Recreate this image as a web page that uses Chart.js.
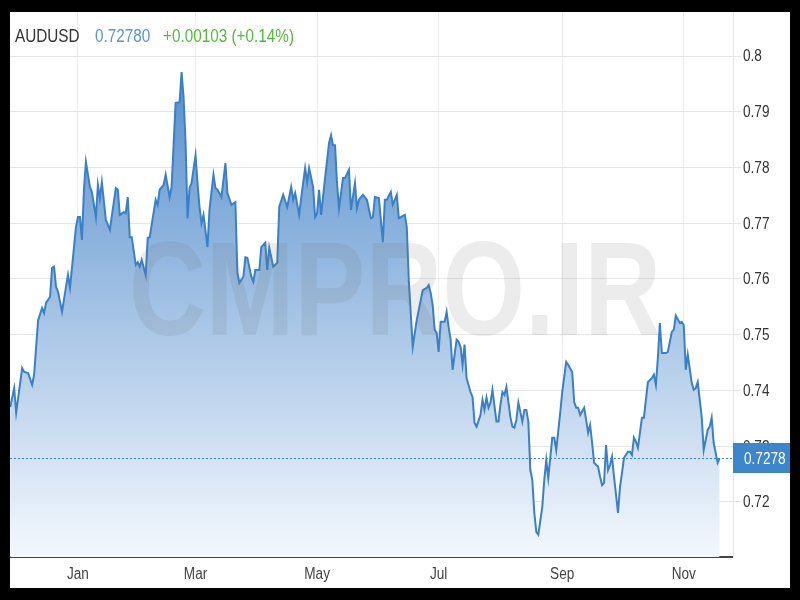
<!DOCTYPE html>
<html>
<head>
<meta charset="utf-8">
<script src="https://cdn.jsdelivr.net/npm/chart.js@4"></script>
<style>
  html, body { margin: 0; padding: 0; background: #000; }
  #frame { position: absolute; left: 10px; top: 12px; width: 780px; height: 576px; background: #fff; }
</style>
</head>
<body>
<div id="frame"><canvas id="chart" width="780" height="576"></canvas></div>
<script>
// header texts
const symbol = "AUDUSD";
const lastQuote = "0.72780";
const change = "+0.00103 (+0.14%)";
const watermark = "CMPRO.IR";

// days counted from Jan 1
const days = [
  -34, -32, -31, -28, -27, -25, -23, -22, -20, -18,
  -17, -16, -14, -13, -12, -11, -10, -8, -6, -5,
  -4, -1, 0, 1, 2, 3, 4, 6, 7, 9,
  10, 11, 12, 14, 16, 19, 20, 21, 23, 24,
  25, 26, 27, 29, 30, 31, 32, 34, 35, 36,
  39, 40, 41, 43, 44, 46, 47, 49, 51, 52,
  53, 54, 55, 56, 57, 59, 60, 61, 62, 63,
  65, 66, 68, 69, 70, 72, 74, 75, 77, 79,
  80, 81, 83, 84, 85, 87, 88, 89, 91, 92,
  94, 95, 96, 98, 100, 101, 103, 105, 107, 108,
  109, 111, 112, 114, 115, 116, 118, 119, 120, 121,
  122, 124, 126, 127, 128, 129, 130, 131, 133, 134,
  136, 137, 139, 140, 141, 143, 145, 147, 148, 149,
  151, 153, 154, 155, 157, 158, 160, 161, 162, 164,
  165, 166, 168, 170, 172, 173, 175, 176, 177, 178,
  179, 180, 181, 182, 184, 185, 186, 187, 188, 190,
  191, 192, 193, 194, 195, 197, 198, 199, 200, 202,
  203, 204, 205, 206, 207, 208, 210, 211, 212, 213,
  214, 215, 217, 218, 219, 220, 221, 223, 224, 225,
  226, 227, 228, 229, 230, 231, 233, 234, 235, 236,
  238, 239, 240, 242, 243, 245, 246, 248, 249, 250,
  251, 252, 254, 255, 256, 257, 258, 259, 261, 262,
  263, 264, 265, 266, 267, 268, 269, 271, 272, 273,
  274, 276, 277, 278, 279, 280, 281, 283, 284, 285,
  286, 288, 289, 290, 291, 292, 293, 295, 296, 298,
  299, 300, 302, 303, 304, 305, 306, 308, 309, 310,
  311, 313, 314, 316, 317, 318, 319, 321, 322
];
const rates = [
  0.7370, 0.7404, 0.7360, 0.7440, 0.7433, 0.7431, 0.7410, 0.7428, 0.7526, 0.7548,
  0.7539, 0.7557, 0.7568, 0.7620, 0.7622, 0.7586, 0.7577, 0.7541, 0.7586, 0.7607,
  0.7584, 0.7693, 0.7711, 0.7711, 0.7670, 0.7760, 0.7810, 0.7765, 0.7756, 0.7711,
  0.7769, 0.7745, 0.7774, 0.7706, 0.7688, 0.7763, 0.7760, 0.7715, 0.7720, 0.7718,
  0.7747, 0.7675, 0.7675, 0.7625, 0.7630, 0.7622, 0.7634, 0.7607, 0.7674, 0.7675,
  0.7742, 0.7733, 0.7760, 0.7769, 0.7787, 0.7747, 0.7765, 0.7916, 0.7917, 0.7971,
  0.7926, 0.7844, 0.7709, 0.7763, 0.7772, 0.7822, 0.7772, 0.7729, 0.7700, 0.7715,
  0.7657, 0.7724, 0.7787, 0.7763, 0.7760, 0.7747, 0.7808, 0.7754, 0.7733, 0.7738,
  0.7611, 0.7593, 0.7604, 0.7639, 0.7638, 0.7604, 0.7595, 0.7616, 0.7616, 0.7657,
  0.7665, 0.7616, 0.7656, 0.7622, 0.7629, 0.7729, 0.7751, 0.7729, 0.7765, 0.7742,
  0.7754, 0.7715, 0.7745, 0.7799, 0.7774, 0.7799, 0.7765, 0.7711, 0.7718, 0.7760,
  0.7715, 0.7781, 0.7844, 0.7858, 0.7840, 0.7840, 0.7772, 0.7727, 0.7781, 0.7781,
  0.7796, 0.7724, 0.7772, 0.7727, 0.7742, 0.7751, 0.7742, 0.7709, 0.7711, 0.7747,
  0.7745, 0.7666, 0.7742, 0.7742, 0.7756, 0.7733, 0.7751, 0.7709, 0.7711, 0.7715,
  0.7693, 0.7598, 0.7478, 0.7526, 0.7562, 0.7580, 0.7584, 0.7589, 0.7575, 0.7553,
  0.7509, 0.7503, 0.7469, 0.7523, 0.7523, 0.7541, 0.7514, 0.7491, 0.7437, 0.7491,
  0.7487, 0.7478, 0.7446, 0.7482, 0.7422, 0.7397, 0.7388, 0.7342, 0.7335, 0.7356,
  0.7383, 0.7365, 0.7387, 0.7369, 0.7378, 0.7401, 0.7344, 0.7344, 0.7374, 0.7397,
  0.7392, 0.7406, 0.7352, 0.7335, 0.7333, 0.7347, 0.7378, 0.7344, 0.7365, 0.7365,
  0.7344, 0.7257, 0.7239, 0.7180, 0.7146, 0.7141, 0.7191, 0.7239, 0.7275, 0.7243,
  0.7315, 0.7315, 0.7293, 0.7360, 0.7397, 0.7451, 0.7446, 0.7433, 0.7379, 0.7369,
  0.7369, 0.7356, 0.7369, 0.7347, 0.7324, 0.7338, 0.7306, 0.7270, 0.7263, 0.7245,
  0.7230, 0.7234, 0.7302, 0.7257, 0.7266, 0.7281, 0.7245, 0.7180, 0.7227, 0.7252,
  0.7279, 0.7290, 0.7290, 0.7284, 0.7315, 0.7308, 0.7297, 0.7351, 0.7351, 0.7383,
  0.7415, 0.7422, 0.7428, 0.7410, 0.7458, 0.7521, 0.7467, 0.7467, 0.7469, 0.7505,
  0.7509, 0.7534, 0.7521, 0.7523, 0.7517, 0.7437, 0.7464, 0.7413, 0.7401, 0.7404,
  0.7415, 0.7352, 0.7293, 0.7329, 0.7335, 0.7351, 0.7306, 0.7270, 0.7278
];

const monthDays = [0, 59, 120, 181, 243, 304];
const monthLabels = ["Jan", "Mar", "May", "Jul", "Sep", "Nov"];
const yTicks = [0.72, 0.73, 0.74, 0.75, 0.76, 0.77, 0.78, 0.79, 0.8];

const FONT = "'Liberation Sans', Arial, sans-serif";
const lineColor = "#3b80c6";

const points = days.map((d, i) => ({ x: d, y: rates[i] }));
const lastRate = rates[rates.length - 1];

// the reference uses a condensed face, so squeeze Liberation Sans sideways
function narrowText(c, text, x, y, size, color, align, squeeze, weight) {
  c.save();
  c.font = (weight || "normal") + " " + size + "px " + FONT;
  c.fillStyle = color;
  c.textAlign = align || "left";
  c.translate(x, y);
  c.scale(squeeze || 0.85, 1);
  c.fillText(text, 0, 0);
  c.restore();
}

const extras = {
  id: "extras",
  afterDatasetsDraw(chart) {
    const c = chart.ctx;
    const a = chart.chartArea;
    c.save();
    c.textBaseline = "alphabetic";
    narrowText(c, watermark, 385, 323, 133, "rgba(110,110,110,0.13)", "center", 0.8, "bold");
    c.restore();

    const y = chart.scales.y.getPixelForValue(lastRate);
    c.save();
    c.strokeStyle = lineColor;
    c.lineWidth = 1;
    c.setLineDash([2, 2]);
    c.beginPath();
    c.moveTo(a.left, Math.round(y) + 0.5);
    c.lineTo(a.right, Math.round(y) + 0.5);
    c.stroke();
    c.restore();
  },
  afterDraw(chart) {
    const c = chart.ctx;
    const a = chart.chartArea;
    const xs = chart.scales.x;
    const ys = chart.scales.y;
    c.save();
    c.textBaseline = "middle";
    ys.ticks.forEach(t => {
      narrowText(c, String(+t.value.toFixed(2)), a.right + 10, ys.getPixelForValue(t.value) + 1, 16, "#333");
    });
    xs.ticks.forEach(t => {
      narrowText(c, monthLabels[monthDays.indexOf(t.value)], xs.getPixelForValue(t.value), a.bottom + 18, 16, "#444", "center");
    });

    const y = ys.getPixelForValue(lastRate);
    c.fillStyle = "#3d86cc";
    c.fillRect(a.right, Math.round(y) - 15, 57, 30);
    narrowText(c, lastRate.toFixed(4), a.right + 11, y + 1, 16, "#fff");

    c.textBaseline = "alphabetic";
    narrowText(c, symbol, 5, 30, 18, "#333");
    narrowText(c, lastQuote, 85, 30, 18, "#5b93d3");
    narrowText(c, change, 153, 30, 18, "#52bb3c");
    c.restore();
  }
};

new Chart(document.getElementById("chart"), {
  type: "line",
  data: {
    datasets: [{
      data: points,
      borderColor: lineColor,
      borderWidth: 2,
      pointRadius: 0,
      tension: 0,
      fill: "start",
      backgroundColor: (ctx) => {
        const area = ctx.chart.chartArea;
        if (!area) return "rgba(0,0,0,0)";
        const g = ctx.chart.ctx.createLinearGradient(0, area.top, 0, area.bottom);
        g.addColorStop(0, "#4282c7");
        g.addColorStop(1, "#f4f8fd");
        return g;
      }
    }]
  },
  options: {
    responsive: false,
    animation: false,
    layout: { padding: 0 },
    plugins: { legend: { display: false }, tooltip: { enabled: false } },
    scales: {
      x: {
        type: "linear",
        min: -34.1,
        max: 328.7,
        afterBuildTicks: (s) => { s.ticks = monthDays.map(v => ({ value: v })); },
        afterFit: (s) => { s.height = 31; s.paddingLeft = 0; s.paddingRight = 0; },
        ticks: { display: false },
        grid: { color: "#ededed", drawTicks: false },
        border: { color: "#444", width: 2 }
      },
      y: {
        position: "right",
        min: 0.7101,
        max: 0.8079,
        afterBuildTicks: (s) => { s.ticks = yTicks.map(v => ({ value: v })); },
        afterFit: (s) => { s.width = 57; s.paddingTop = 0; s.paddingBottom = 0; },
        ticks: { display: false },
        grid: { color: "#e6e6e6", tickLength: 8 },
        border: { color: "#e6e6e6" }
      }
    }
  },
  plugins: [extras]
});
</script>
</body>
</html>
